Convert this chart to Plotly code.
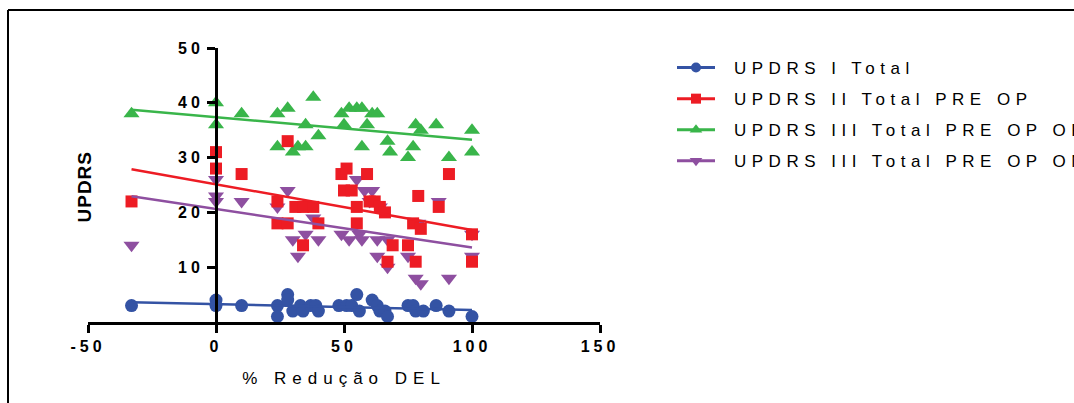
import numpy as np
import plotly.graph_objects as go

# % reduction of dyskinesia (DEL) vs UPDRS scores, one point per patient
updrs1_x = [-33, 0, 0, 10, 24, 24, 28, 28, 30, 33, 34, 37, 39, 40, 48, 51, 53, 55, 56,
            61, 63, 64, 66, 67, 75, 77, 78, 81, 86, 91, 100]
updrs1_y = [3, 4, 3, 3, 3, 1, 5, 4, 2, 3, 2, 3, 3, 2, 3, 3, 3, 5, 2,
            4, 3, 2, 2, 1, 3, 3, 2, 2, 3, 2, 1]

updrs2_x = [-33, 0, 0, 10, 28, 24, 24, 28, 31, 34, 38, 40, 34, 49, 51, 59, 50, 53,
            55, 55, 60, 62, 64, 66, 69, 67, 75, 78, 77, 80, 79, 87, 91, 100, 100]
updrs2_y = [22, 31, 28, 27, 33, 22, 18, 18, 21, 21, 21, 18, 14, 27, 28, 27, 24, 24,
            21, 18, 22, 22, 21, 20, 14, 11, 14, 11, 18, 17, 23, 21, 27, 16, 11]

updrs3_off_x = [-33, 0, 0, 10, 24, 28, 38, 35, 40, 24, 30, 32, 35, 49, 50, 52, 55, 57,
                61, 63, 59, 57, 67, 68, 75, 77, 78, 80, 86, 91, 100, 100]
updrs3_off_y = [38, 40, 36, 38, 38, 39, 41, 36, 34, 32, 31, 32, 32, 38, 36, 39, 39, 39,
                38, 38, 36, 32, 33, 31, 30, 32, 36, 35, 36, 30, 35, 31]

updrs3_on_x = [-33, 0, 0, 0, 10, 24, 28, 30, 32, 35, 38, 40, 49, 52, 56, 57, 55,
               58, 61, 60, 63, 64, 63, 67, 67, 75, 79, 78, 80, 91, 87, 100, 100]
updrs3_on_y = [14, 26, 23, 22, 22, 21, 24, 15, 12, 16, 19, 15, 16, 15, 16, 15, 26,
               24, 24, 22, 15, 21, 12, 10, 15, 12, 18, 8, 7, 8, 22, 12, 16]

series_names = ["UPDRS I Total", "UPDRS II Total PRE OP",
                "UPDRS III Total PRE OP OFF", "UPDRS III Total PRE OP ON"]

x_ticks = [-50, 0, 50, 100, 150]
y_ticks = [10, 20, 30, 40, 50]

FONT = "Liberation Sans, Arial, sans-serif"

styles = [
    dict(color="#3453a4", symbol="circle", size=13, leg=10),
    dict(color="#ed1c24", symbol="square", size=12, leg=10),
    dict(color="#39b54a", symbol="triangle-up", size=14, leg=11),
    dict(color="#8e4fa0", symbol="triangle-down", size=14, leg=11),
]
data = [(updrs1_x, updrs1_y), (updrs2_x, updrs2_y),
        (updrs3_off_x, updrs3_off_y), (updrs3_on_x, updrs3_on_y)]

# markers are layered blue, purple, green, red; lines sit above all markers
marker_order = [0, 3, 2, 1]

fig = go.Figure()
for i in marker_order:
    xs, ys = data[i]
    st = styles[i]
    fig.add_trace(go.Scatter(
        x=xs, y=ys, mode="markers", legendgroup=series_names[i], showlegend=False,
        marker=dict(symbol=st["symbol"], size=st["size"], color=st["color"], line=dict(width=0)),
        cliponaxis=False, hoverinfo="x+y"))

for name, (xs, ys), st in zip(series_names, data, styles):
    xs = np.asarray(xs, float)
    ys = np.asarray(ys, float)
    # least-squares regression line across the observed x span
    slope, intercept = np.polyfit(xs, ys, 1)
    xfit = np.array([xs.min(), xs.max()])
    fig.add_trace(go.Scatter(
        x=xfit, y=slope * xfit + intercept, mode="lines", legendgroup=name,
        showlegend=False, line=dict(color=st["color"], width=2.5),
        cliponaxis=False, hoverinfo="skip"))

for name, st in zip(series_names, styles):
    # legend entry (line + marker)
    fig.add_trace(go.Scatter(
        x=[None], y=[None], mode="lines+markers", name=name, legendgroup=name,
        line=dict(color=st["color"], width=3),
        marker=dict(symbol=st["symbol"], size=st["leg"], color=st["color"])))

W, H = 1074, 403
L, R, T, B = 88, 474, 48, 81
pw, ph = W - L - R, H - T - B


def px_x(p):
    return (p - L) / pw


def px_y(p):
    return (H - B - p) / ph


fig.update_layout(
    width=W, height=H,
    margin=dict(l=L, r=R, t=T, b=B, autoexpand=False),
    paper_bgcolor="white", plot_bgcolor="white",
    font=dict(family=FONT, color="black"),
    xaxis=dict(
        range=[-50, 150], tickvals=x_ticks, ticktext=[str(v) for v in x_ticks],
        showgrid=False, zeroline=False, showline=True, linecolor="black", linewidth=3,
        ticks="outside", ticklen=8, tickwidth=3, tickcolor="black",
        tickfont=dict(family=FONT, size=16, weight="bold", color="black"),
        anchor="y",
        title=dict(text="% Redução DEL", font=dict(family=FONT, size=17, color="black"), standoff=18),
    ),
    yaxis=dict(
        range=[0, 50], tickvals=y_ticks, ticktext=[str(v) for v in y_ticks],
        showgrid=False, zeroline=False, showline=True, linecolor="black", linewidth=3,
        ticks="outside", ticklen=8, tickwidth=3, tickcolor="black",
        tickfont=dict(family=FONT, size=16, weight="bold", color="black"),
        anchor="free", position=0.25,
    ),
    legend=dict(
        x=px_x(672), y=px_y(50), xanchor="left", yanchor="top",
        font=dict(family=FONT, size=17, color="black"),
        traceorder="grouped", tracegroupgap=6, itemwidth=38, bgcolor="rgba(0,0,0,0)",
    ),
    annotations=[
        dict(text="<b>UPDRS</b>", textangle=-90, x=px_x(84), y=px_y(187),
             xref="paper", yref="paper", xanchor="center", yanchor="middle",
             showarrow=False, font=dict(family=FONT, size=19, color="black")),
    ],
    shapes=[
        dict(type="line", xref="paper", yref="paper", x0=px_x(8), x1=px_x(W + 2),
             y0=px_y(10), y1=px_y(10), line=dict(color="black", width=2)),
        dict(type="line", xref="paper", yref="paper", x0=px_x(8), x1=px_x(8),
             y0=px_y(10), y1=px_y(H + 2), line=dict(color="black", width=2)),
    ],
    showlegend=True,
)

# wide letter spacing for the legend, tick and title text; legend text runs past its box
spacing_css = """
var st = document.createElement('style');
st.textContent = '.legendtext{letter-spacing:5.5px;transform:translateX(14px)}' +
  '.legend .scrollbox,.legend{clip-path:none !important}' +
  '.xtick text,.ytick text{letter-spacing:4px}' +
  '.xtitle{letter-spacing:6px}' +
  '.annotation-text{letter-spacing:1px}';
document.head.appendChild(st);
"""

fig.write_html("out.html", config={"displayModeBar": False}, post_script=spacing_css)
